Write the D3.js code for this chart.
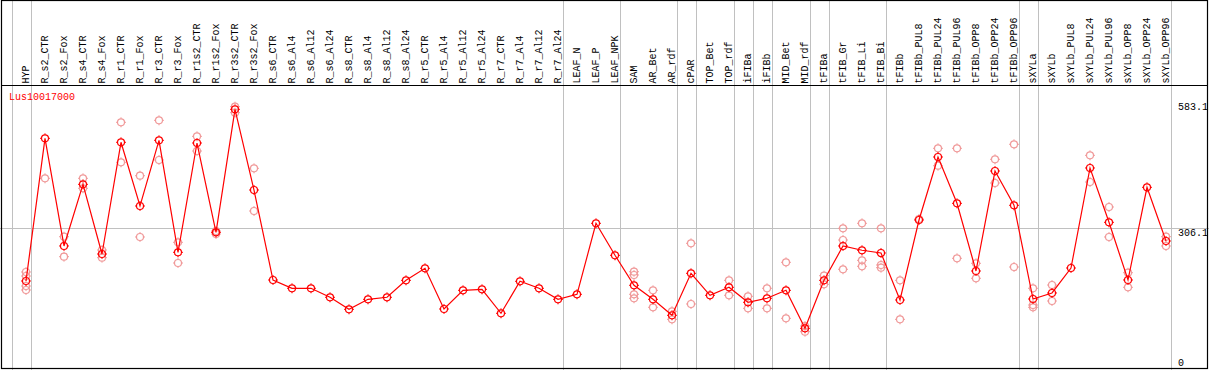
<!DOCTYPE html>
<html>
<head>
<meta charset="utf-8">
<script src="https://cdn.jsdelivr.net/npm/d3@7"></script>
<style>
  body { margin: 0; background: #fff; }
  text { font-family: "Liberation Mono", "DejaVu Sans Mono", monospace; font-size: 10px; }
</style>
</head>
<body>
<div id="wrapper"></div>
<script>
const categories = ["HYP", "R_s2_CTR", "R_s2_Fox", "R_s4_CTR", "R_s4_Fox", "R_r1_CTR", "R_r1_Fox",
  "R_r3_CTR", "R_r3_Fox", "R_r1s2_CTR", "R_r1s2_Fox", "R_r3s2_CTR", "R_r3s2_Fox",
  "R_s6_CTR", "R_s6_Al4", "R_s6_Al12", "R_s6_Al24", "R_s8_CTR", "R_s8_Al4", "R_s8_Al12", "R_s8_Al24",
  "R_r5_CTR", "R_r5_Al4", "R_r5_Al12", "R_r5_Al24", "R_r7_CTR", "R_r7_Al4", "R_r7_Al12", "R_r7_Al24",
  "LEAF_N", "LEAF_P", "LEAF_NPK", "SAM", "AR_Bet", "AR_rdf", "cPAR", "TOP_Bet", "TOP_rdf",
  "iFIBa", "iFIBb", "MID_Bet", "MID_rdf", "tFIBa", "tFIB_Gr", "tFIB_Li", "tFIB_Bi", "tFIBb",
  "tFIBb_PUL8", "tFIBb_PUL24", "tFIBb_PUL96", "tFIBb_OPP8", "tFIBb_OPP24", "tFIBb_OPP96",
  "sXYLa", "sXYLb", "sXYLb_PUL8", "sXYLb_PUL24", "sXYLb_PUL96", "sXYLb_OPP8", "sXYLb_OPP24", "sXYLb_OPP96"];

// mean expression per sample
const meanValues = [189.0, 504.4, 266.4, 402.7, 248.7, 495.6, 354.8, 500.0, 252.4, 494.0, 296.6, 568.5, 390.1,
  191.2, 172.9, 172.9, 153.0, 126.4, 148.5, 153.0, 190.5, 217.1, 127.1, 168.4, 170.6, 117.6, 188.3, 172.9, 148.5,
  159.6, 316.5, 245.8, 179.5, 148.5, 113.2, 206.0, 157.4, 175.1, 141.9, 150.8, 168.4, 84.4, 190.5,
  266.4, 256.9, 250.9, 147.0, 323.8, 463.1, 360.7, 211.1, 432.1, 356.3,
  149.2, 162.5, 217.7, 438.8, 318.7, 191.2, 396.1, 277.4];

// replicate values per sample
const replicateValues = [
  [208.9, 200.0, 177.9, 169.1], [416.0], [286.9, 242.7], [416.0, 393.9], [257.5, 240.5],
  [539.8, 451.4], [421.7, 286.3], [544.2, 456.5], [274.5, 228.8], [508.8, 476.3],
  [299.5, 292.9], [574.3, 561.0], [438.1, 343.7],
  [], [], [], [], [], [], [], [], [], [], [], [], [], [], [], [],
  [], [], [],
  [209.5, 202.3, 159.6, 150.8], [168.4, 130.9], [122.0, 104.3], [272.3, 138.2], [], [190.5, 157.4],
  [155.2, 128.6], [172.9, 128.6], [230.3, 106.5], [89.5, 76.9], [200.7, 181.7],
  [305.5, 279.6, 214.9], [316.5, 234.7, 221.5], [305.5, 224.4, 218.4], [190.5, 104.3],
  [326.0], [482.3, 443.8], [482.3, 239.2], [228.1, 195.0], [458.0, 405.6], [491.2, 219.9],
  [172.9, 135.9, 130.9], [180.1, 144.8], [], [466.8, 407.8], [352.6, 286.3], [207.3, 175.1], [], [286.9, 266.4]];

// index of the last sample in each group (vertical separators)
const groupEnds = [-1, 0, 28, 31, 34, 35, 37, 38, 39, 41, 42, 45, 52, 53, 60];

const yTicks = [583.1, 306.1, 0];
const geneName = "Lus10017000";

const width = 1209, height = 370;
const headerBottom = 85.5, plotBottom = 368.5;

const svg = d3.select("#wrapper").append("svg")
  .attr("width", width)
  .attr("height", height);

const xScale = d3.scalePoint()
  .domain(categories)
  .range([26, 1166]);
const step = xScale.step();

const yScale = d3.scaleLinear()
  .domain([0, 583.1])
  .range([366.5, 102.7]);

// vertical separators
svg.append("g").selectAll("line")
  .data(groupEnds)
  .join("line")
  .attr("x1", d => Math.round(26 + step * d + 4.5) + 0.5)
  .attr("x2", d => Math.round(26 + step * d + 4.5) + 0.5)
  .attr("y1", 0)
  .attr("y2", height)
  .attr("stroke", "#c0c0c0")
  .attr("stroke-width", 1);

// horizontal middle gridline
svg.append("line")
  .attr("x1", 0).attr("x2", width)
  .attr("y1", Math.round(yScale(306.1)) + 0.5)
  .attr("y2", Math.round(yScale(306.1)) + 0.5)
  .attr("stroke", "#c0c0c0");

// frame
svg.append("rect")
  .attr("x", 1.5).attr("y", 0.5)
  .attr("width", 1206).attr("height", plotBottom - 0.5)
  .attr("fill", "none").attr("stroke", "black").attr("stroke-width", 1.2);
svg.append("line")
  .attr("x1", 1).attr("x2", 1208)
  .attr("y1", headerBottom).attr("y2", headerBottom)
  .attr("stroke", "black").attr("stroke-width", 1.2);

// sample labels
svg.append("g").selectAll("text")
  .data(categories)
  .join("text")
  .attr("transform", d => `translate(${xScale(d) + 3},83.5) rotate(-90)`)
  .attr("fill", "black")
  .text(d => d);

// y labels on the right
svg.append("g").selectAll("text")
  .data(yTicks)
  .join("text")
  .attr("x", 1178)
  .attr("y", d => Math.min(yScale(d) + 7.5, 365.5))
  .attr("fill", "black")
  .text(d => d);

svg.append("text")
  .attr("x", 9).attr("y", 100)
  .attr("fill", "red")
  .text(geneName);

// marker: circle with tiny ticks
function marker(g, color, r) {
  g.append("circle").attr("r", r).attr("fill", "none").attr("stroke", color).attr("stroke-width", 1.2);
  [[0, -1], [0, 1], [-1, 0], [1, 0]].forEach(([dx, dy]) => {
    g.append("line")
      .attr("x1", dx * r).attr("y1", dy * r)
      .attr("x2", dx * (r + 1.5)).attr("y2", dy * (r + 1.5))
      .attr("stroke", color).attr("stroke-width", 1);
  });
}

// replicates
const reps = [];
replicateValues.forEach((vals, i) => vals.forEach(v => reps.push({ c: categories[i], v })));
svg.append("g").selectAll("g")
  .data(reps)
  .join("g")
  .attr("transform", d => `translate(${xScale(d.c)},${yScale(d.v)})`)
  .each(function () { marker(d3.select(this), "#f09a9a", 3.5); });

// mean line
const lineGen = d3.line()
  .x((d, i) => xScale(categories[i]))
  .y(d => yScale(d));
svg.append("path")
  .attr("d", lineGen(meanValues))
  .attr("fill", "none")
  .attr("stroke", "red")
  .attr("stroke-width", 1.2);

svg.append("g").selectAll("g")
  .data(meanValues)
  .join("g")
  .attr("transform", (d, i) => `translate(${xScale(categories[i])},${yScale(d)})`)
  .each(function () { marker(d3.select(this), "red", 3.5); });
</script>
</body>
</html>
